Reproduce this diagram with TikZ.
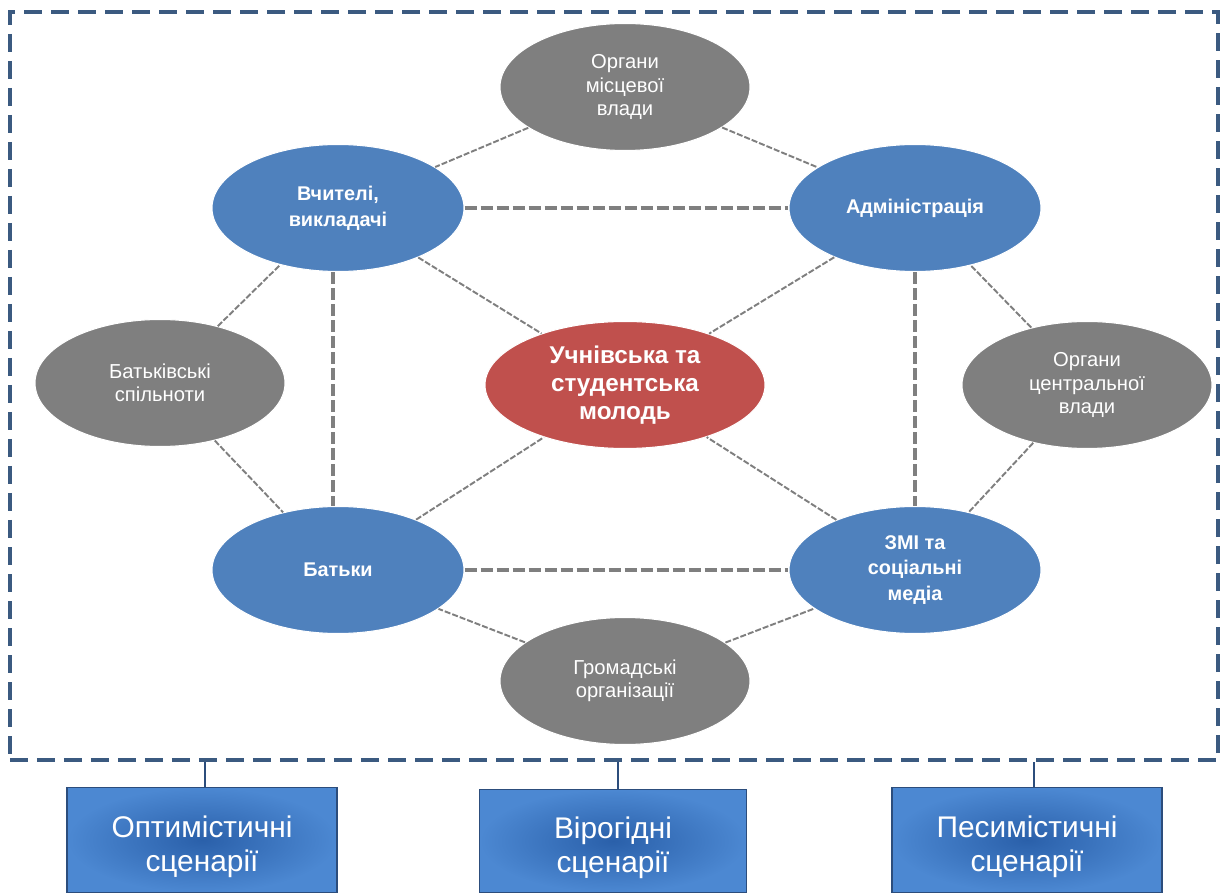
\documentclass[tikz,border=0pt]{standalone}
\usepackage{fontspec}
\setmainfont{Liberation Sans}
\usepackage{xcolor}
\definecolor{actor}{HTML}{4F81BD}
\definecolor{outer}{HTML}{7F7F7F}
\definecolor{core}{HTML}{C0504D}
\definecolor{link}{HTML}{7F7F7F}
\definecolor{frm}{HTML}{3B5A80}
\definecolor{boxin}{HTML}{2A60AA}
\definecolor{boxout}{HTML}{4C88D2}
\definecolor{boxline}{HTML}{2C4D7C}
\usetikzlibrary{positioning,calc,shapes.geometric}

\begin{document}
\begin{tikzpicture}[x=0.2mm,y=-0.2mm,
  bl/.style={ellipse,fill=actor,draw=white,line width=0.6pt,minimum width=50.4mm,minimum height=25.4mm,inner sep=0pt,
    text=white,align=center,font=\fontsize{11.3}{14.6}\selectfont\bfseries},
  gr/.style={ellipse,fill=outer,draw=white,line width=0.6pt,minimum width=50mm,minimum height=25.4mm,inner sep=0pt,
    text=white,align=center,font=\fontsize{11.5}{13.3}\selectfont},
  rd/.style={ellipse,fill=core,draw=white,line width=0.6pt,minimum width=56mm,minimum height=25.4mm,inner sep=0pt,
    text=white,align=center,font=\fontsize{13.8}{15.9}\selectfont\bfseries},
  sc/.style={rectangle,draw=boxline,line width=1pt,inner color=boxin,outer color=boxout,minimum width=54mm,minimum height=21mm,
    text=white,align=center,font=\fontsize{17}{19.3}\selectfont},
  thick link/.style={draw=link,line width=2.2pt,dash pattern=on 2.4mm off 0.8mm},
  thin link/.style={draw=link,line width=1.1pt,dash pattern=on 1.2mm off 0.4mm}]
  \useasboundingbox (0,0) rectangle (1221,895);
  % frame around the actors
  \node[draw=frm,line width=2.3pt,dash pattern=on 3.6mm off 1.8mm,minimum width=241.6mm,minimum height=149.6mm,inner sep=0pt] (fr) at (614,386) {};
  % actors
  \node[gr] (loc) at (625,87) {Органи\\місцевої\\влади};
  \node[bl] (tch) at (338,208) {Вчителі,\\викладачі};
  \node[bl] (adm) at (915,208) {Адміністрація};
  \node[gr] (par) at (160,383) {Батьківські\\спільноти};
  \node[rd] (yth) at (625,385) {Учнівська та\\студентська\\молодь};
  \node[gr] (cen) at (1087,385) {Органи\\центральної\\влади};
  \node[bl] (fam) at (338,570) {Батьки};
  \node[bl] (med) at (915,570) {ЗМІ та\\соціальні\\медіа};
  \node[gr] (ngo) at (625,681) {Громадські\\організації};
  % connectors
  \foreach \p/\q in {tch/adm,fam/med} \draw[thick link] (\p) -- (\q);
  \draw[thick link] ($(tch.south)+(-5,0)$) -- ($(fam.north)+(-5,0)$);
  \draw[thick link] (adm.south) -- (med.north);
  \foreach \p/\q in {loc/tch,loc/adm,tch/yth,adm/yth,fam/yth,med/yth,par/tch,par/fam,cen/adm,cen/med,ngo/fam,ngo/med}
    \draw[thin link] (\p) -- (\q);
  % scenarios
  \node[sc] (opt) at (202,840) {\rule{0pt}{20pt}Оптимістичні\\сценарії};
  \node[sc,minimum width=53.4mm,minimum height=20.6mm] (prb) at (613,841) {\rule{0pt}{20pt}Вірогідні\\сценарії};
  \node[sc] (pes) at (1027,840) {\rule{0pt}{20pt}Песимістичні\\сценарії};
  \foreach \b/\dx in {opt/3,prb/5,pes/7}
    \draw[boxline,line width=1.1pt] ($(\b.north |- fr.south)+(\dx,0)$) -- ($(\b.north)+(\dx,0)$);
\end{tikzpicture}
\end{document}
